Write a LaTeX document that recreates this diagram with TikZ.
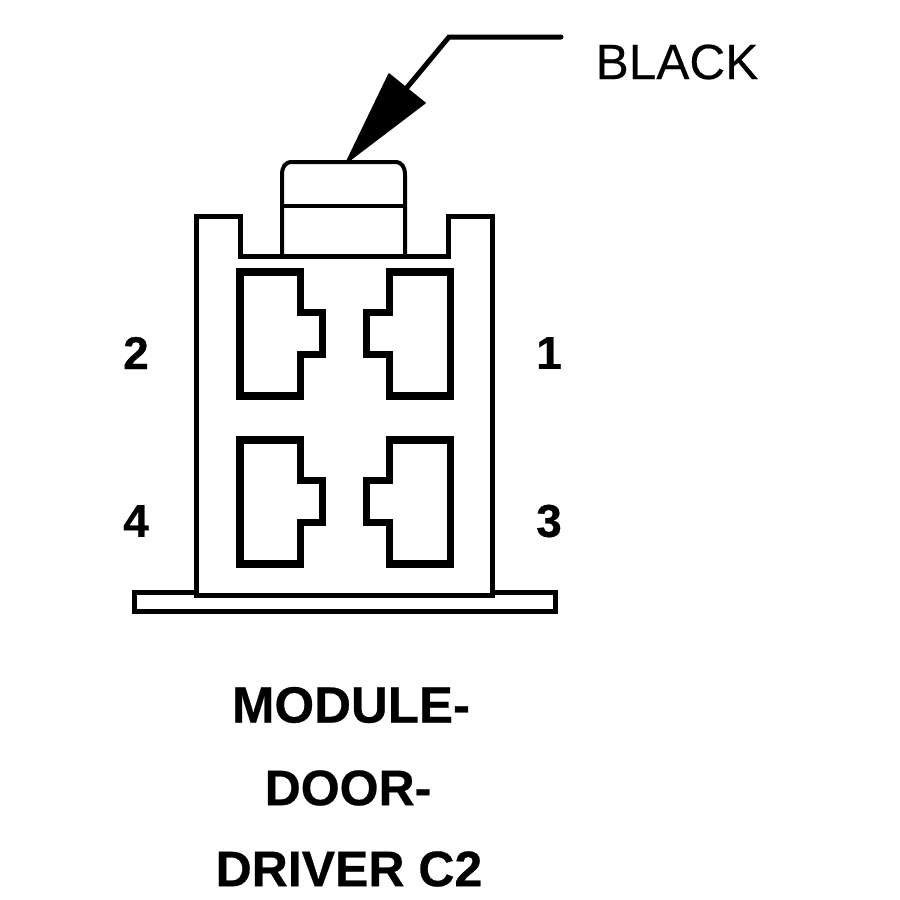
\documentclass[tikz,border=0pt]{standalone}
\usepackage{fontspec}
\setmainfont{Liberation Sans}
\newfontfamily\hvbold[FakeBold=0.5]{Liberation Sans Bold}
\newfontfamily\hvreg[FakeBold=0.25]{Liberation Sans}
\tikzset{
  ln/.style={draw=black,line join=miter,line width=#1},
  ln/.default=5pt,
  term/.style={draw=black,line width=7.5pt,line join=miter},
  lab/.style={font=\fontsize{50}{50}\hvbold,inner sep=0pt,anchor=center},
  pin/.style={font=\fontsize{46}{46}\hvbold,inner sep=0pt,anchor=center}
}
\newcommand{\termL}[1]{\draw[term,shift={(0,#1)}] (240,272) -- (300.5,272) -- (300.5,312.5) -- (322.5,312.5) -- (322.5,354.5) -- (300.5,354.5) -- (300.5,396) -- (240,396) -- cycle;}
\newcommand{\termR}[1]{\draw[term,shift={(0,#1)}] (450.5,272) -- (389.5,272) -- (389.5,312.5) -- (366.5,312.5) -- (366.5,354.5) -- (389.5,354.5) -- (389.5,396) -- (450.5,396) -- cycle;}
\begin{document}
\begin{tikzpicture}[x=1pt,y=-1pt]
\useasboundingbox (0,0) rectangle (900,900);
\fill[white] (0,0) rectangle (900,900);
% plate
\draw[ln=5pt] (134,592.5) rectangle (555,611);
% housing
\draw[ln=5pt,fill=white] (196,216) -- (240.5,216) -- (240.5,256) -- (448,256) -- (448,216) -- (492,216) -- (492,595) -- (196,595) -- cycle;
% cap
\draw[ln=4pt] (282,256) -- (282,175) .. controls (282,167) and (285,162) .. (292,162) -- (395,162) .. controls (402,162) and (405,167) .. (405,175) -- (405,256);
\draw[ln=4pt] (282,206) -- (405,206);
% terminals
\termL{0}\termR{0}\termL{168}\termR{168}
% leader
\coordinate (tip) at (346,163);
\coordinate (bend) at (449,37);
\coordinate (lend) at (561,37);
\draw[ln=5pt,line cap=round] (lend) -- (bend) -- (405,90);
\fill[line join=round,draw=black,line width=1.5pt] (tip) -- (389,74) -- (425,103) -- cycle;
% labels
\node[font=\fontsize{49.6}{50}\hvreg,inner sep=0pt] (black) at (677,62) {BLACK};
\node[pin] (p2) at (136,353) {2};
\node[pin] (p1) at (549,353) {1};
\node[pin] (p4) at (136,521) {4};
\node[pin] (p3) at (549,521) {3};
\node[lab,font=\fontsize{51}{51}\hvbold] (t1) at (351,705) {MODULE-};
\node[lab] (t2) at (348,788) {DOOR-};
\node[lab] (t3) at (349,869) {DRIVER C2};
\end{tikzpicture}
\end{document}
